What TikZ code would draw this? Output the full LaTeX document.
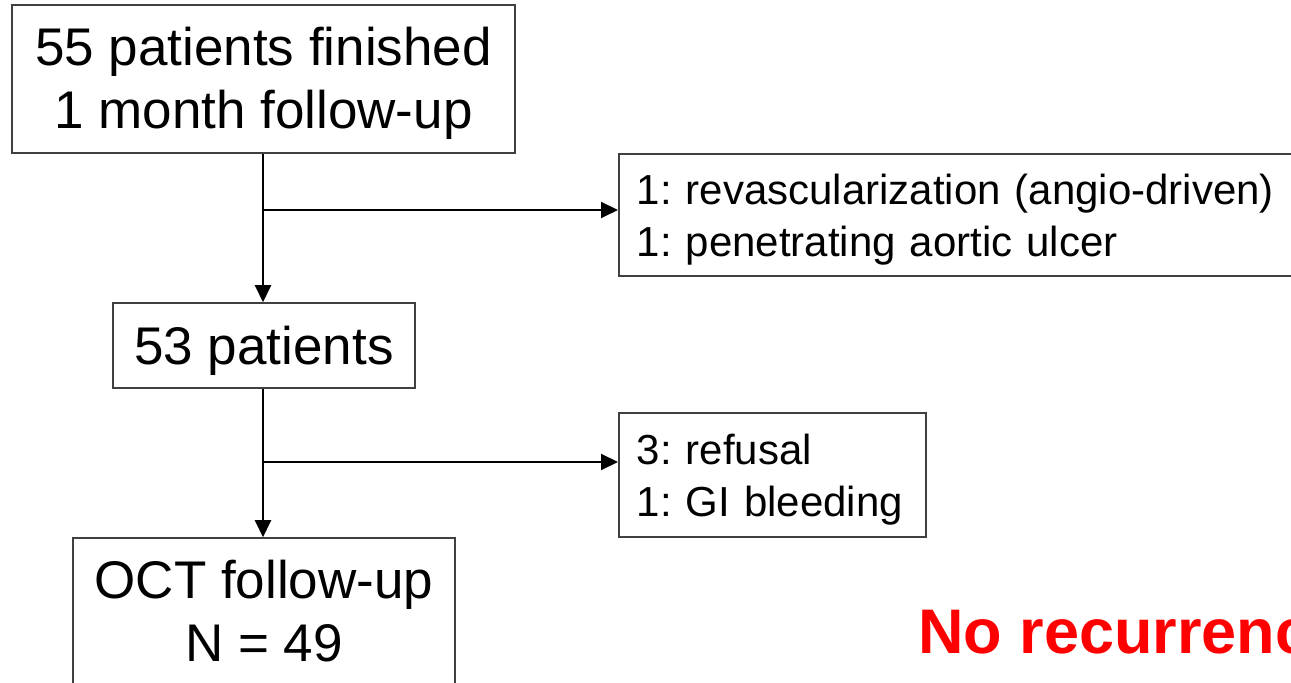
\documentclass[tikz,border=0pt]{standalone}
\usepackage{fontspec}
\setmainfont{Liberation Sans}
\frenchspacing
\usetikzlibrary{arrows.meta,positioning,calc}

\newcommand{\topstrut}[1]{\rule{0pt}{#1}}

\tikzset{
  box/.style={draw=black!75, line width=0.75pt, inner sep=0pt, align=center,
    font=\fontsize{26.5}{31.5}\selectfont},
  sidebox/.style={draw=black!75, line width=0.75pt, inner xsep=9pt, inner ysep=0pt,
    align=left, anchor=west, font=\fontsize{21}{26}\selectfont},
  topgap/.style={execute at begin node={\topstrut{#1}}},
  flow/.style={line width=1pt, -{Triangle[length=8.5pt,width=8pt]}},
}

\begin{document}
\begin{tikzpicture}[x=0.5pt,y=-0.5pt]
  \useasboundingbox (0,0) rectangle (1291,683);
  \clip (0,0) rectangle (1291,683);

  % main column
  \node[box, minimum width=251.5pt, minimum height=74pt] (start) at (263.5,79)
    {\topstrut{23.5pt}55 patients finished\\1 month follow-up};
  \node[box, topgap=24.3pt, minimum width=151pt, minimum height=42.5pt] (mid) at (264,345.5)
    {53 patients};
  \node[box, minimum width=191pt, minimum height=73pt] (oct) at (264,611)
    {OCT follow-up\\N = 49};

  % exclusions
  \node[sidebox, topgap=20.3pt, text width=328pt, minimum height=61pt] (excl1) at (618,215)
    {1: revascularization (angio-driven)\\1: penetrating aortic ulcer};
  \node[sidebox, topgap=20.3pt, text width=135.5pt, minimum height=62pt] (excl2) at (618,475)
    {3: refusal\\1: GI bleeding};

  \coordinate (j1) at (263,210);
  \coordinate (j2) at (263,462);

  \draw[flow] (start.south -| j1) -- (mid.north -| j1);
  \draw[flow] (mid.south -| j2) -- (oct.north -| j2);
  \draw[flow] (j1) -- (j1 -| excl1.west);
  \draw[flow] (j2) -- (j2 -| excl2.west);

  \node[anchor=base west, inner sep=0pt, text=red,
    font=\fontsize{31.5}{36}\selectfont\bfseries] (norec) at (918,654) {No recurrence};
\end{tikzpicture}
\end{document}
